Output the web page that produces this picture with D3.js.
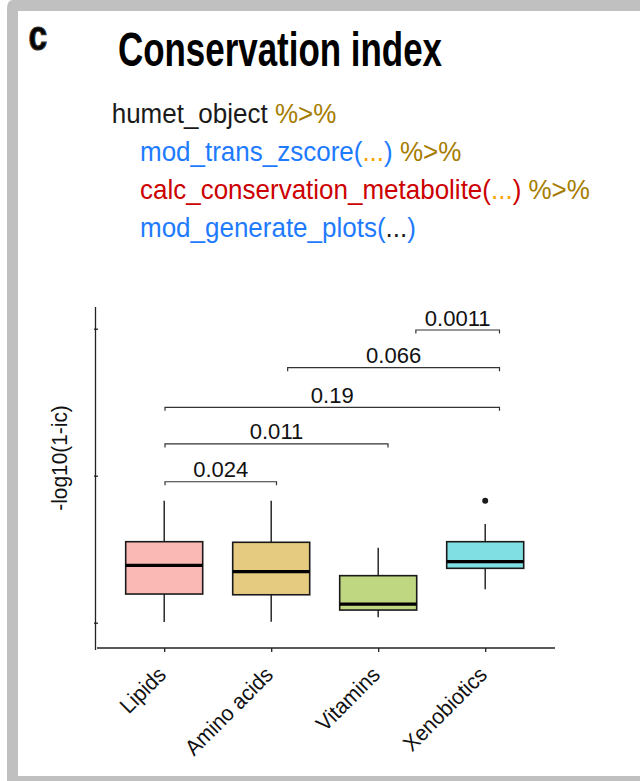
<!DOCTYPE html>
<html><head><meta charset="utf-8">
<script src="https://cdn.jsdelivr.net/npm/d3@7/dist/d3.min.js"></script>
<style>body{margin:0;background:#fff}svg{display:block}text{font-family:"Liberation Sans",Arial,sans-serif}</style>
</head><body>
<script>
// ---- data ----
const categories = ["Lipids", "Amino acids", "Vitamins", "Xenobiotics"];
const whiskerLow  = [0.005, 0.007, 0.037, 0.227];
const q1          = [0.195, 0.190, 0.086, 0.370];
const median      = [0.390, 0.347, 0.127, 0.415];
const q3          = [0.551, 0.547, 0.320, 0.551];
const whiskerHigh = [0.830, 0.830, 0.510, 0.671];
const fillColors  = ["#fbb9b5", "#e5cb80", "#c0d782", "#80dfe3"];
const outlierCategory = ["Xenobiotics"];
const outlierValue    = [0.830];
const yTickValues = [0, 1, 2];
const yTickLabels = ["", "", ""];
const bracketLabels = ["0.024", "0.011", "0.19", "0.066", "0.0011"];
const bracketXmin   = [1, 1, 1, 2.1, 3.25];
const bracketXmax   = [2, 3, 4, 4, 4];
const bracketY      = [0.959, 1.216, 1.465, 1.735, 1.991];
const titleText = "Conservation index";
const yTitle = "-log10(1-ic)";
const codeLines = [
  [["humet_object ", "#1a1a1a"], ["%>%", "#a67c00"]],
  [["mod_trans_zscore(", "#1e7bff"], ["...", "#ff9f00"], [") ", "#1e7bff"], ["%>%", "#a67c00"]],
  [["calc_conservation_metabolite(", "#cc0000"], ["...", "#ff9f00"], [") ", "#cc0000"], ["%>%", "#a67c00"]],
  [["mod_generate_plots(", "#1e7bff"], ["...", "#1a1a1a"], [")", "#1e7bff"]]
];

const W = 640, H = 781;
const svg = d3.select("body").append("svg").attr("width", W).attr("height", H);

// frame
svg.append("path").attr("d", "M7,781 V9 Q7,0 13,0 H640 V781 Z").attr("fill", "#c0c0c0");
svg.append("rect").attr("x", 18).attr("y", 11).attr("width", W - 18).attr("height", 765).attr("fill", "#fff");

// condensed text helper
function ctext(parent, tx, ty, sx, size, extra) {
  return parent.append("text").attr("transform", `translate(${tx},${ty}) ${extra || ""} scale(${sx},1)`)
    .attr("font-size", size);
}

// panel letter and title
ctext(svg, 28.5, 50, 0.8, 42).attr("font-weight", "bold").attr("fill", "#000")
  .attr("stroke", "#333").attr("stroke-width", 1.2).text("c");
svg.append("text").attr("x", 118).attr("y", 66).attr("font-size", 48).attr("font-weight", "bold")
  .attr("textLength", 324).attr("lengthAdjust", "spacingAndGlyphs").attr("fill", "#000").text(titleText);

// code block
const codeX = [111.7, 140, 140, 140];
codeLines.forEach((parts, i) => {
  const t = ctext(svg, codeX[i], 123 + i * 38, 0.945, 27.5).attr("xml:space", "preserve").style("white-space", "pre");
  parts.forEach(p => t.append("tspan").attr("fill", p[1]).text(p[0]));
});

// scales
const y = d3.scaleLinear().domain([0, 2]).range([622.7, 328.7]);
const x = d3.scalePoint().domain(categories).range([164.2, 485.2]);
const xb = d3.scaleLinear().domain([1, 4]).range([165, 499.5]);
const boxHalf = 38.5;

// axes
const axisX0 = 95.5, axisY0 = 648;
svg.append("line").attr("x1", axisX0).attr("x2", axisX0).attr("y1", 307).attr("y2", 650)
  .attr("stroke", "#222").attr("stroke-width", 1.3);
svg.append("line").attr("x1", 97).attr("x2", 555).attr("y1", axisY0).attr("y2", axisY0)
  .attr("stroke", "#222").attr("stroke-width", 1.3);
const yAxis = d3.axisLeft(y).tickValues(yTickValues).tickFormat((d, i) => yTickLabels[i]).tickSizeInner(2.5).tickSizeOuter(0);
const gy = svg.append("g").attr("transform", `translate(${axisX0 + 2.5},0)`).call(yAxis);
gy.select(".domain").remove();
gy.selectAll(".tick line").attr("stroke", "#222").attr("stroke-width", 1.3).attr("x2", -4);
const xAxis = d3.axisBottom(x).tickSizeInner(4).tickSizeOuter(0).tickFormat("");
const gx = svg.append("g").attr("transform", `translate(0,${axisY0})`).call(xAxis);
gx.select(".domain").remove();
gx.selectAll(".tick line").attr("stroke", "#222").attr("stroke-width", 1.3);
categories.forEach(c => {
  ctext(svg, x(c) - 8, 665, 0.95, 22, "rotate(-45)")
    .attr("text-anchor", "end").attr("dy", "0.72em").attr("fill", "#111").text(c);
});
ctext(svg, 67, 458, 0.95, 22, "rotate(-90)").attr("text-anchor", "middle").attr("fill", "#111").text(yTitle);

// boxes
const boxes = svg.append("g");
categories.forEach((c, i) => {
  const cx = x(c);
  boxes.append("line").attr("x1", cx).attr("x2", cx).attr("y1", y(whiskerLow[i])).attr("y2", y(q1[i]))
    .attr("stroke", "#1a1a1a").attr("stroke-width", 1.4);
  boxes.append("line").attr("x1", cx).attr("x2", cx).attr("y1", y(q3[i])).attr("y2", y(whiskerHigh[i]))
    .attr("stroke", "#1a1a1a").attr("stroke-width", 1.4);
  boxes.append("rect").attr("x", cx - boxHalf).attr("width", boxHalf * 2)
    .attr("y", y(q3[i])).attr("height", y(q1[i]) - y(q3[i]))
    .attr("fill", fillColors[i]).attr("stroke", "#1a1a1a").attr("stroke-width", 1.6);
  boxes.append("line").attr("x1", cx - boxHalf).attr("x2", cx + boxHalf).attr("y1", y(median[i])).attr("y2", y(median[i]))
    .attr("stroke", "#000").attr("stroke-width", 3.2);
});
outlierCategory.forEach((c, i) => {
  boxes.append("circle").attr("cx", x(c)).attr("cy", y(outlierValue[i])).attr("r", 3).attr("fill", "#1a1a1a");
});

// significance brackets
const br = svg.append("g");
bracketLabels.forEach((lab, i) => {
  const x1 = xb(bracketXmin[i]), x2 = xb(bracketXmax[i]), yy = y(bracketY[i]);
  br.append("path").attr("d", `M${x1},${yy + 3.5}V${yy}H${x2}V${yy + 3.5}`)
    .attr("fill", "none").attr("stroke", "#333").attr("stroke-width", 1.2);
  ctext(br, (x1 + x2) / 2, yy - 4.5, 0.98, 22.5).attr("text-anchor", "middle").attr("fill", "#111").text(lab);
});
</script>
</body></html>
